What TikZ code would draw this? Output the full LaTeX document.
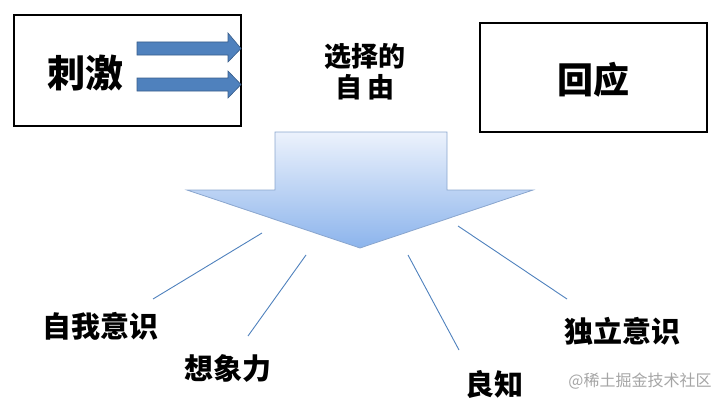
\documentclass[tikz,border=0pt]{standalone}
\usepackage{fontspec}
\usepackage{tikz}
\usetikzlibrary{positioning, calc}
\setmainfont{Noto Sans CJK SC}
\definecolor{arrowblue}{RGB}{79, 129, 189}
\definecolor{arrowedge}{RGB}{56, 93, 138}
\definecolor{flowtop}{RGB}{236, 242, 252}
\definecolor{flowbottom}{RGB}{140, 180, 236}
\definecolor{flowedge}{RGB}{138, 166, 206}
\definecolor{markgray}{RGB}{165, 165, 165}

\begin{document}
\begin{tikzpicture}[
    x=1pt, y=-1pt,
    box/.style={rectangle, draw=black, line width=1.6pt, inner sep=0pt},
    word/.style={inner sep=0pt, text=black, font=\fontsize{29}{31}\selectfont\bfseries},
    bigword/.style={word, font=\fontsize{38}{40}\selectfont\bfseries},
    push/.style={fill=arrowblue, draw=arrowedge, line width=0.6pt},
    flow/.style={top color=flowtop, bottom color=flowbottom, draw=flowedge, line width=0.8pt},
    line/.style={draw=arrowblue, line width=0.9pt}
]
\useasboundingbox (0,0) rectangle (719,404);

% two boxes on top
\node[box, minimum width=227pt, minimum height=111pt] (stimbox) at (127.5,70.5) {};
\node[bigword] (stim) at (85,73) {刺激};
\node[box, minimum width=227pt, minimum height=109pt] (respbox) at (593.5,77.5) {};
\node[bigword, font=\fontsize{36}{38}\selectfont\bfseries] (resp) at (593,80) {回应};

\path[push] (137,42) -- (228,42) -- (228,33) -- (241,48.5) -- (228,62) -- (228,55) -- (137,55) -- cycle;
\path[push] (137,78) -- (228,78) -- (228,71) -- (241,84.5) -- (228,98) -- (228,91) -- (137,91) -- cycle;

\node[word, align=center, font=\fontsize{27}{31}\selectfont\bfseries] (free) at (365,72) {选择的\\自\hspace{5pt}由};

% big arrow
\path[flow] (275,132) -- (447,132) -- (447,190) -- (533,190) -- (360,248) -- (187,190) -- (275,190) -- cycle;

% the four labels
\node[word] (self) at (100,326) {自我意识};
\node[word] (imag) at (228,368) {想象力};
\node[word] (consc) at (494,384) {良知};
\node[word] (indep) at (622,331) {独立意识};

\coordinate (self-top) at (262,233);
\coordinate (self-end) at (153,299);
\coordinate (imag-top) at (306,255);
\coordinate (imag-end) at (248,336);
\coordinate (consc-top) at (408,255);
\coordinate (consc-end) at (459,350);
\coordinate (indep-top) at (458,226);
\coordinate (indep-end) at (567,299);

\draw[line] (self-top) -- (self-end);
\draw[line] (imag-top) -- (imag-end);
\draw[line] (consc-top) -- (consc-end);
\draw[line] (indep-top) -- (indep-end);

\node[inner sep=0pt, text=markgray, font=\fontsize{16}{18}\selectfont] (mark) at (640,381) {@稀土掘金技术社区};

\end{tikzpicture}
\end{document}
